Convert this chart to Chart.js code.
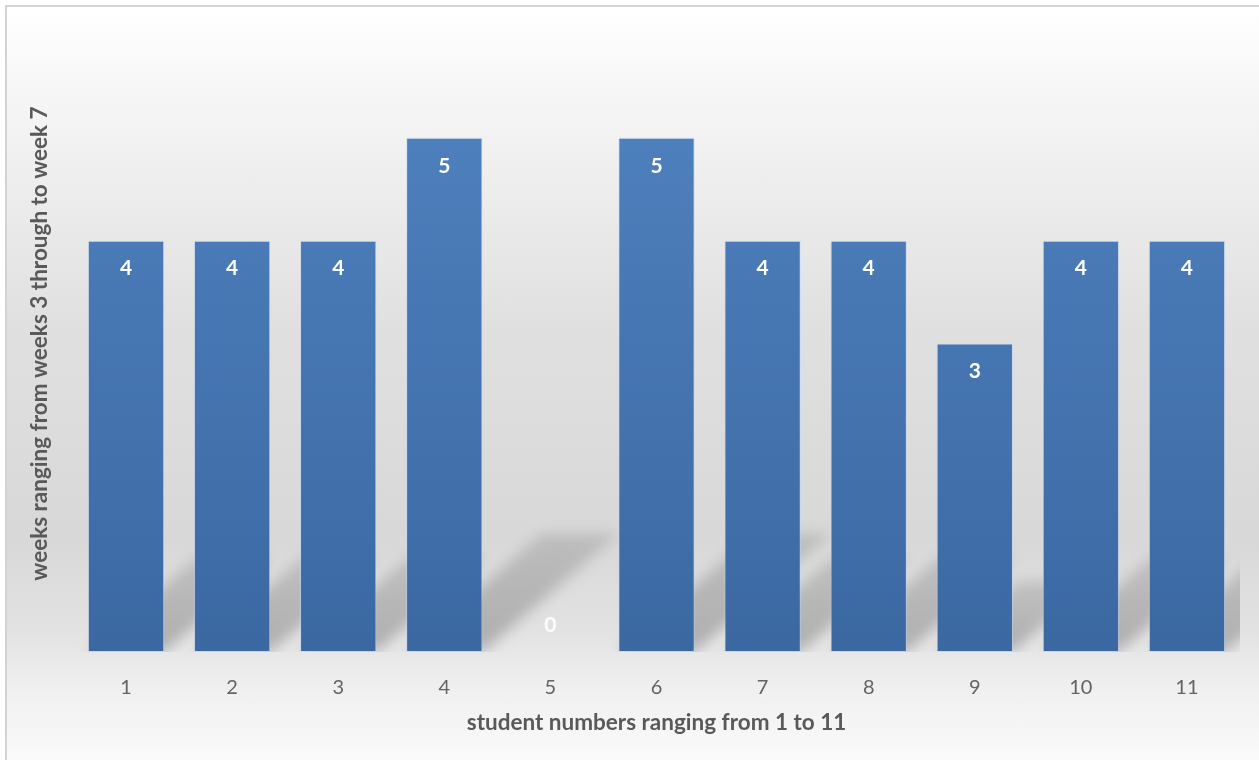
<!DOCTYPE html>
<html>
<head>
<meta charset="utf-8">
<script src="https://cdn.jsdelivr.net/npm/chart.js@4.4.1/dist/chart.umd.min.js"></script>
<style>
  html, body { margin: 0; padding: 0; background: #ffffff; overflow: hidden; }
  body { width: 1259px; height: 760px; position: relative; }
  #frame {
    position: absolute; left: 5px; top: 5px; width: 1262px; height: 760px;
    border-left: 2px solid #d3d3d3; border-top: 2px solid #d3d3d3;
    background: linear-gradient(to bottom, #ffffff 0%, #f7f7f7 10%, #e0e0e0 42%, #d8d8d8 70%, #e2e2e2 82%, #f0f0f0 90%, #fbfbfb 100%);
  }
  #wrap { position: absolute; left: 7px; top: 7px; width: 1252px; height: 753px; }
</style>
</head>
<body>
<div id="frame"></div>
<div id="wrap"><canvas id="c" width="1252" height="753"></canvas></div>
<script>
// Students 1..11 and the number of weeks each one attended (weeks 3 to 7)
const students = ['1', '2', '3', '4', '5', '6', '7', '8', '9', '10', '11'];
const weeksAttended = [4, 4, 4, 5, 0, 5, 4, 4, 3, 4, 4];
const axisMax = 6;
const xAxisTitle = 'student numbers ranging from 1 to 11';
const yAxisTitle = 'weeks ranging from weeks 3 through to week 7';

const labelFont = 'Lato';

// Perspective shadow cast by every bar toward the upper right
const barShadows = {
  id: 'barShadows',
  beforeDatasetsDraw(chart) {
    const { ctx, chartArea } = chart;
    const meta = chart.getDatasetMeta(0);
    ctx.save();
    ctx.beginPath();
    ctx.rect(chartArea.left, chartArea.top, chartArea.right - chartArea.left, chartArea.bottom - chartArea.top);
    ctx.clip();
    ctx.filter = 'blur(7px)';
    meta.data.forEach(bar => {
      const p = bar.getProps(['x', 'y', 'base', 'width'], true);
      const h = p.base - p.y;
      if (h <= 0) return;
      const H = h * 0.23;
      const s = H * 1.15;
      const x0 = p.x - p.width / 2, x1 = p.x + p.width / 2;
      const g = ctx.createLinearGradient(0, p.base, 0, p.base - H);
      g.addColorStop(0, 'rgba(0,0,0,0.24)');
      g.addColorStop(1, 'rgba(0,0,0,0.12)');
      ctx.fillStyle = g;
      ctx.beginPath();
      ctx.moveTo(x0, p.base);
      ctx.lineTo(x1, p.base);
      ctx.lineTo(x1 + s, p.base - H);
      ctx.lineTo(x0 + s, p.base - H);
      ctx.closePath();
      ctx.fill();
    });
    ctx.restore();
  }
};

// Value labels written inside the top end of each bar
const valueLabels = {
  id: 'valueLabels',
  afterDatasetsDraw(chart) {
    const { ctx } = chart;
    const meta = chart.getDatasetMeta(0);
    const values = chart.data.datasets[0].data;
    ctx.save();
    ctx.font = `bold 21px ${labelFont}`;
    ctx.textAlign = 'center';
    ctx.textBaseline = 'middle';
    meta.data.forEach((bar, i) => {
      const p = bar.getProps(['x', 'y', 'base'], true);
      const v = values[i];
      const cy = v > 0 ? p.y + 28 : p.base - 27;
      ctx.fillStyle = v > 0 ? '#ffffff' : 'rgba(255,255,255,0.9)';
      ctx.fillText(String(v), p.x, cy);
    });
    ctx.restore();
  }
};

const ctx = document.getElementById('c').getContext('2d');
new Chart(ctx, {
  type: 'bar',
  data: {
    labels: students,
    datasets: [{
      data: weeksAttended,
      categoryPercentage: 1,
      barPercentage: 0.72,
      borderWidth: 1,
      borderColor: 'rgba(190,210,238,0.55)',
      borderSkipped: false,
      backgroundColor(c) {
        const area = c.chart.chartArea;
        if (!area) return '#4a78b4';
        const g = c.chart.ctx.createLinearGradient(0, area.top, 0, area.bottom);
        g.addColorStop(0, '#5184c2');
        g.addColorStop(1, '#3b68a1');
        return g;
      }
    }]
  },
  options: {
    responsive: false,
    animation: false,
    devicePixelRatio: 1,
    layout: { padding: { left: 8, right: 19, top: 28, bottom: 16 } },
    plugins: { legend: { display: false }, tooltip: { enabled: false } },
    scales: {
      x: {
        grid: { display: false, drawTicks: false },
        border: { display: false },
        ticks: { color: '#636363', font: { family: labelFont, size: 20 }, padding: 24 },
        title: {
          display: true, text: xAxisTitle, color: '#595959',
          font: { family: labelFont, size: 22.5, weight: 'bold' },
          padding: { top: -15, bottom: 8 }
        }
      },
      y: {
        min: 0, max: axisMax,
        grid: { display: false, drawTicks: false },
        border: { display: false },
        ticks: { display: false },
        title: {
          display: true, text: yAxisTitle, color: '#595959',
          font: { family: labelFont, size: 22.5, weight: 'bold' },
          padding: { top: 11.5, bottom: 19.5 }
        }
      }
    }
  },
  plugins: [barShadows, valueLabels]
});
</script>
</body>
</html>
